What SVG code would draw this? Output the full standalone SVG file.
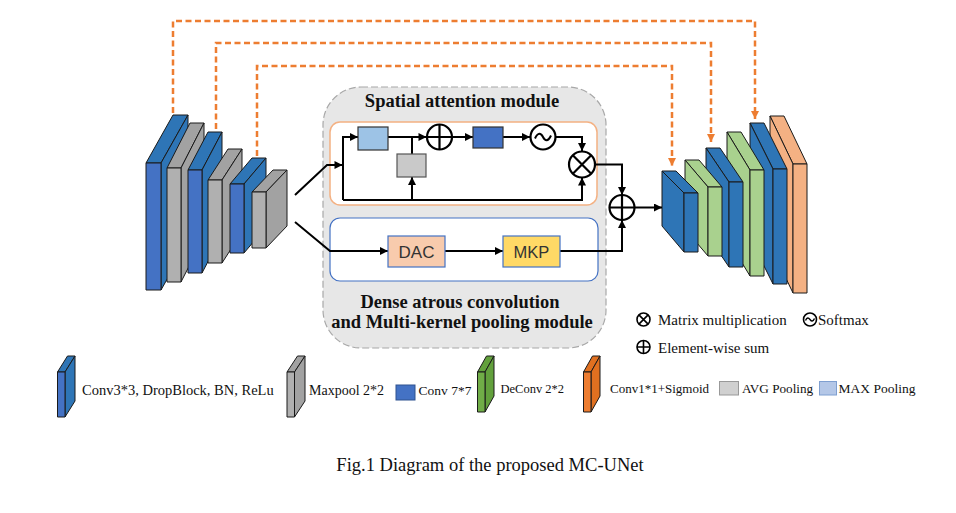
<svg xmlns="http://www.w3.org/2000/svg" width="956" height="513" viewBox="0 0 956 513">
<defs>
<marker id="ah" viewBox="0 0 10 10" refX="10" refY="5" markerWidth="9" markerHeight="8" markerUnits="userSpaceOnUse" orient="auto"><path d="M0,0 L10,5 L0,10 z" fill="#000"/></marker>
<marker id="ao" viewBox="0 0 10 10" refX="10" refY="5" markerWidth="9" markerHeight="8" markerUnits="userSpaceOnUse" orient="auto"><path d="M0,0 L10,5 L0,10 z" fill="#ED7D31"/></marker>
</defs>
<style>
.blk polygon, .blk rect{stroke:#1a1a1a;stroke-width:1;stroke-linejoin:round}
.bf{fill:#4472C4}.bs{fill:#2E75B6}
.gf{fill:#B0B0B0}.gs{fill:#A2A2A2}
.nf{fill:#A9D18E}.ns{fill:#A9D18E}
.of{fill:#F4B183}.os{fill:#F4B183}
.lg{fill:#70AD47}.lgs{fill:#62A03C}
.lo{fill:#ED7D31}.los{fill:#E07020}
.ln{fill:none;stroke:#000;stroke-width:2}
.dash{fill:none;stroke:#ED7D31;stroke-width:2.5;stroke-dasharray:6 3.5}
.op{fill:#fff;stroke:#000;stroke-width:2.2}
.ops{fill:#fff;stroke:#000;stroke-width:1.6}
.t{font-family:"Liberation Serif","Times New Roman",serif;fill:#111}
.tb{font-family:"Liberation Serif","Times New Roman",serif;font-weight:bold;fill:#111;font-size:18.5px;text-anchor:middle}
.ts{font-family:"Liberation Sans",Arial,sans-serif;fill:#333;text-anchor:middle}
</style>
<rect width="956" height="513" fill="#fff"/>

<!-- Encoder -->
<g id="encoder" class="blk">
<g id="enc1"><polygon class="bs" points="146,163 161,163 188,115 173,115"/><polygon class="bs" points="161,163 188,115 188,242 161,290"/><rect class="bf" x="146" y="163" width="15" height="127"/></g>
<g id="enc2"><polygon class="gs" points="167,168 181,168 204,123 190,123"/><polygon class="gs" points="181,168 204,123 204,237 181,282"/><rect class="gf" x="167" y="168" width="14" height="114"/></g>
<g id="enc3"><polygon class="bs" points="188,170 202,170 222,132 208,132"/><polygon class="bs" points="202,170 222,132 222,235 202,273"/><rect class="bf" x="188" y="170" width="14" height="103"/></g>
<g id="enc4"><polygon class="gs" points="208,180 222,180 242,149 228,149"/><polygon class="gs" points="222,180 242,149 242,232 222,263"/><rect class="gf" x="208" y="180" width="14" height="83"/></g>
<g id="enc5"><polygon class="bs" points="230,184 244,184 266,158 252,158"/><polygon class="bs" points="244,184 266,158 266,227 244,253"/><rect class="bf" x="230" y="184" width="14" height="69"/></g>
<g id="enc6"><polygon class="gs" points="252,192 266,192 287,170 273,170"/><polygon class="gs" points="266,192 287,170 287,226 266,248"/><rect class="gf" x="252" y="192" width="14" height="56"/></g>
</g>

<!-- Decoder -->
<g id="decoder" class="blk">
<g id="dec6"><polygon class="os" points="793,164 807,164 784,116 770,116"/><polygon class="os" points="793,164 770,116 770,245 793,293"/><rect class="of" x="793" y="164" width="14" height="129"/></g>
<g id="dec5"><polygon class="bs" points="773,169 787,169 764,123 750,123"/><polygon class="bs" points="773,169 750,123 750,238 773,284"/><rect class="bs" x="773" y="169" width="14" height="115"/></g>
<g id="dec4"><polygon class="ns" points="750,170 764,170 741,132 727,132"/><polygon class="ns" points="750,170 727,132 727,238 750,276"/><rect class="nf" x="750" y="170" width="14" height="106"/></g>
<g id="dec3"><polygon class="bs" points="729,182 743,182 720,148 706,148"/><polygon class="bs" points="729,182 706,148 706,233 729,267"/><rect class="bs" x="729" y="182" width="14" height="85"/></g>
<g id="dec2"><polygon class="ns" points="708,187 722,187 699,160 685,160"/><polygon class="ns" points="708,187 685,160 685,229 708,256"/><rect class="nf" x="708" y="187" width="14" height="69"/></g>
<g id="dec1"><polygon class="bs" points="684,193 698,193 676,171 662,171"/><polygon class="bs" points="684,193 662,171 662,226 684,252"/><rect class="bs" x="684" y="193" width="14" height="59"/></g>
</g>

<!-- Central module -->
<g id="module">
<rect x="323" y="87" width="283" height="261" rx="38" fill="#E7E7E7" stroke="#A8A8A8" stroke-width="1.2" stroke-dasharray="7 3"/>
<text class="tb" x="462" y="107">Spatial attention module</text>
<text class="tb" x="460" y="308">Dense atrous convolution</text>
<text class="tb" x="462" y="328">and Multi-kernel pooling module</text>
</g>
<g id="sam-box"><rect x="330" y="122" width="267" height="83" rx="10" fill="#fff" stroke="#F4B183" stroke-width="1.5"/></g>
<g id="dac-box"><rect x="330" y="218" width="268" height="63" rx="10" fill="#fff" stroke="#4472C4" stroke-width="1.2"/></g>

<!-- Connectors -->
<g id="connectors">
<path class="dash" d="M173,113 V21 H755 V119" marker-end="url(#ao)"/>
<path class="dash" d="M216,129 V43 H711 V142" marker-end="url(#ao)"/>
<path class="dash" d="M257,156 V66 H672 V166" marker-end="url(#ao)"/>
<path class="ln" d="M295,195 L327,165 H342.5" marker-end="url(#ah)"/>
<path class="ln" d="M295,222 L330,251 H388" marker-end="url(#ah)"/>
<path class="ln" d="M343,200 V137 H358" marker-end="url(#ah)"/>
<path class="ln" d="M388,137 H426.5" marker-end="url(#ah)"/>
<path class="ln" d="M412,137 V154"/>
<path class="ln" d="M343,200 H582 V177.5" marker-end="url(#ah)"/>
<path class="ln" d="M412,200 V177" marker-end="url(#ah)"/>
<path class="ln" d="M452,137 H473" marker-end="url(#ah)"/>
<path class="ln" d="M503,137 H530" marker-end="url(#ah)"/>
<path class="ln" d="M555.5,137 H582 V151" marker-end="url(#ah)"/>
<path class="ln" d="M595,164.5 H622 V195" marker-end="url(#ah)"/>
<path class="ln" d="M445,251 H503" marker-end="url(#ah)"/>
<path class="ln" d="M560,251 H622 V220" marker-end="url(#ah)"/>
<path class="ln" d="M634.5,207.5 H662" marker-end="url(#ah)"/>
</g>

<!-- Nodes inside the module -->
<g id="maxpool"><rect x="358" y="127" width="30" height="23" fill="#9DC3E6" stroke="#333" stroke-width="1.2"/></g>
<g id="avgpool"><rect x="397" y="154" width="29" height="23" fill="#C9C9C9" stroke="#555" stroke-width="1.2"/></g>
<g id="sum1"><circle class="op" cx="439.5" cy="137" r="12.5"/><path d="M427,137 H452 M439.5,124.5 V149.5" stroke="#000" stroke-width="2.2"/></g>
<g id="conv77"><rect x="473" y="127" width="30" height="21" fill="#4472C4" stroke="#333" stroke-width="1.2"/></g>
<g id="softmax"><circle class="op" cx="543" cy="137" r="12.5"/><path d="M535,138.5 C538,132 541,133 543,137 C545,141 548,142 551,135.5" fill="none" stroke="#000" stroke-width="2"/></g>
<g id="mul"><circle class="op" cx="582" cy="164.5" r="13"/><path d="M572.8,155.3 L591.2,173.7 M591.2,155.3 L572.8,173.7" stroke="#000" stroke-width="2.2"/></g>
<g id="sum2"><circle class="op" cx="622" cy="207.5" r="12.5"/><path d="M609.5,207.5 H634.5 M622,195 V220" stroke="#000" stroke-width="2.2"/></g>
<g id="dac"><rect x="388" y="236" width="57" height="31" fill="#F8CBAD" stroke="#4472C4" stroke-width="1.2"/><text class="ts" x="416.5" y="257.5" font-size="17">DAC</text></g>
<g id="mkp"><rect x="503" y="236" width="57" height="31" fill="#FFD966" stroke="#4472C4" stroke-width="1.2"/><text class="ts" x="531.5" y="257.5" font-size="16.5">MKP</text></g>

<!-- Legend -->
<g id="legend">
<g class="blk"><polygon class="bs" points="57.5,372 65,372 75,356 67.5,356"/><polygon class="bs" points="65,372 75,356 75,401 65,417"/><rect class="bf" x="57.5" y="372" width="7.5" height="45"/></g>
<text class="t" x="82" y="395" font-size="14.5">Conv3*3, DropBlock, BN, ReLu</text>
<g class="blk"><polygon class="gs" points="287,372 294.5,372 305,356 297.5,356"/><polygon class="gs" points="294.5,372 305,356 305,401 294.5,417"/><rect class="gf" x="287" y="372" width="7.5" height="45"/></g>
<text class="t" x="309" y="395" font-size="14">Maxpool 2*2</text>
<rect x="396" y="385" width="19" height="15" fill="#4472C4" stroke="#2F528F" stroke-width="1"/>
<text class="t" x="418.5" y="395" font-size="13.5">Conv 7*7</text>
<g class="blk"><polygon class="lgs" points="477.5,372 485,372 494,356 486.5,356"/><polygon class="lgs" points="485,372 494,356 494,396 485,412"/><rect class="lg" x="477.5" y="372" width="7.5" height="40"/></g>
<text class="t" x="500.5" y="392.5" font-size="12.5">DeConv 2*2</text>
<g class="blk"><polygon class="los" points="583.5,372 591,372 600,356 592.5,356"/><polygon class="los" points="591,372 600,356 600,396 591,412"/><rect class="lo" x="583.5" y="372" width="7.5" height="40"/></g>
<text class="t" x="610" y="392.5" font-size="13">Conv1*1+Sigmoid</text>
<rect x="719.5" y="381.5" width="19" height="13.5" fill="#D0D0D0" stroke="#999" stroke-width="1"/>
<text class="t" x="742" y="392.5" font-size="13.2">AVG Pooling</text>
<rect x="819.5" y="381.5" width="17" height="13.5" fill="#B4C7E7" stroke="#7F9FD0" stroke-width="1"/>
<text class="t" x="838.5" y="392.5" font-size="13.5">MAX Pooling</text>
<circle class="ops" cx="643.5" cy="319.5" r="6.5"/><path d="M638.9,314.9 L648.1,324.1 M648.1,314.9 L638.9,324.1" stroke="#000" stroke-width="1.6"/>
<text class="t" x="658" y="325" font-size="15">Matrix multiplication</text>
<circle class="ops" cx="810" cy="319.5" r="6.5"/><path d="M805.5,320.5 C807,317 808.5,317.5 810,319.5 C811.5,321.5 813,322 814.5,318.5" fill="none" stroke="#000" stroke-width="1.4"/>
<text class="t" x="818" y="325" font-size="15">Softmax</text>
<circle class="ops" cx="643.5" cy="347" r="6.5"/><path d="M637,347 H650 M643.5,340.5 V353.5" stroke="#000" stroke-width="1.6"/>
<text class="t" x="658" y="352.5" font-size="15">Element-wise sum</text>
</g>

<text class="t" x="490" y="471" font-size="18.5" text-anchor="middle">Fig.1 Diagram of the proposed MC-UNet</text>
</svg>
